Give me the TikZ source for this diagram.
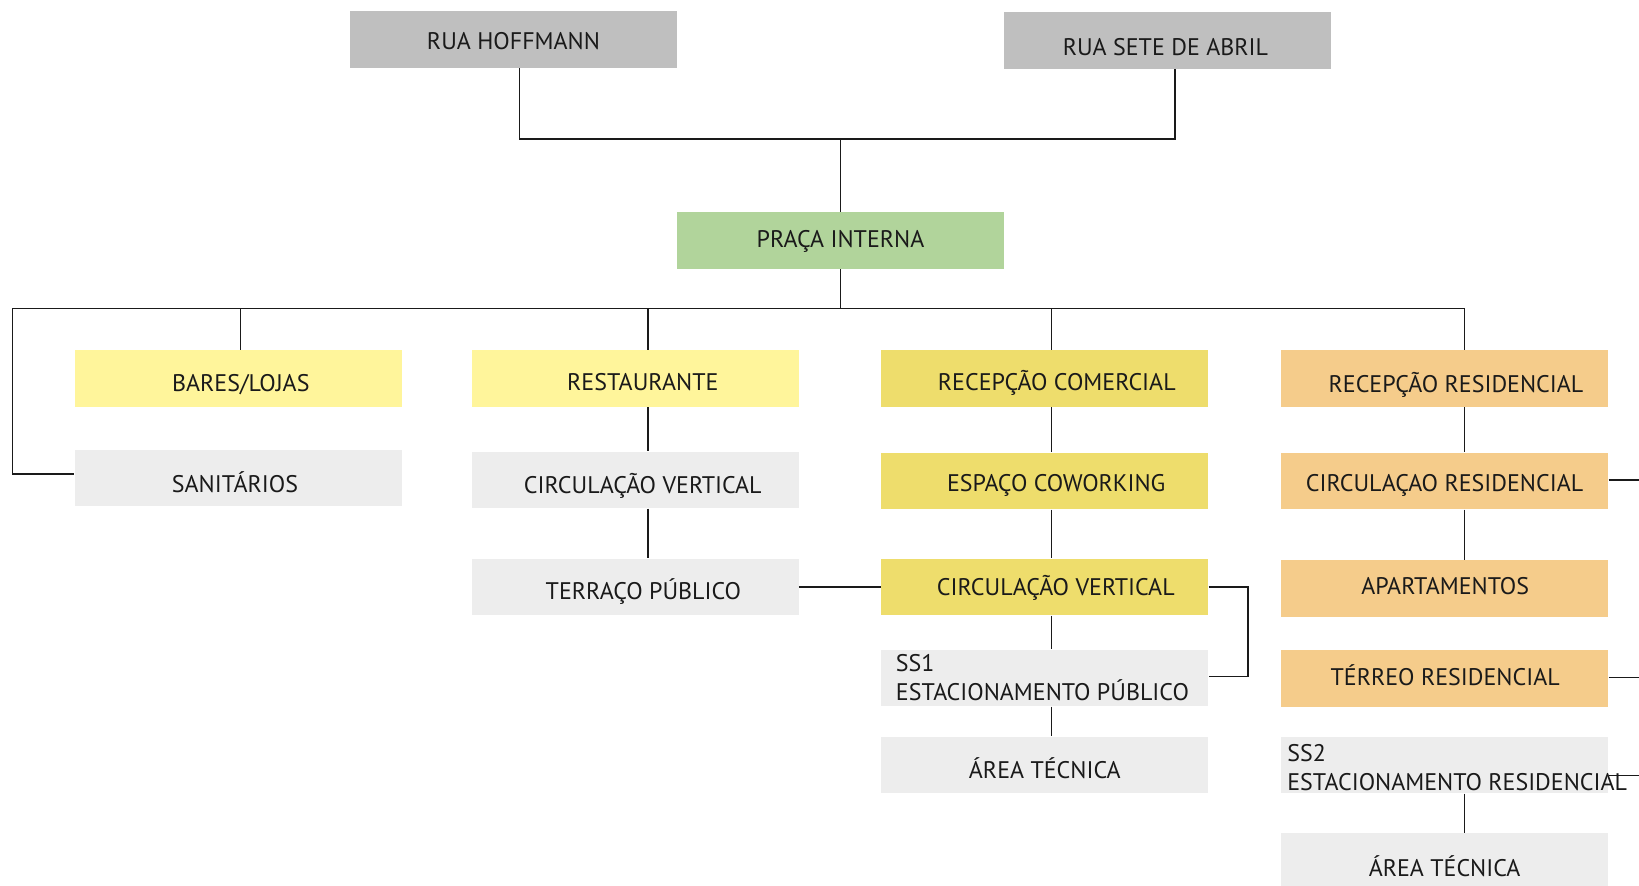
\documentclass[tikz,border=0pt]{standalone}
\usepackage{fontspec}
\setmainfont{PT Sans}
\definecolor{topgray}{HTML}{BFBFBF}
\definecolor{pgreen}{HTML}{B1D49B}
\definecolor{lyellow}{HTML}{FFF59B}
\definecolor{dyellow}{HTML}{EEDD6C}
\definecolor{porange}{HTML}{F5CC8B}
\definecolor{lgray}{HTML}{EDEDED}
\definecolor{ink}{HTML}{1A1A1A}
% text placed with an x offset (#1) and a drop (#2) from the box centre
\newcommand\tx[3]{\raisebox{\dimexpr-4.2pt-#2\relax}[0pt][0pt]{\makebox[0pt]{\hspace*{#1}\hspace*{#1}#3}}}
\begin{document}
\begin{tikzpicture}[x=0.5pt,y=-0.5pt,
  box/.style={rectangle, minimum width=163.5pt, minimum height=28.3pt, inner sep=0pt,
    font=\fontsize{12}{14.4}\selectfont, text=ink},
  sslabel/.style={anchor=west, align=left, inner sep=0pt,
    font=\fontsize{12}{14.6}\selectfont, text=ink},
  conn/.style={line width=0.75pt, draw=ink}]
\useasboundingbox (0,0) rectangle (1639,886);
% top
\node[box, fill=topgray] (hoff) at (513.5,39.7) {\tx{0pt}{0.5pt}{RUA HOFFMANN}};
\node[box, fill=topgray] (sete) at (1167,40.8) {\tx{-0.8pt}{3.1pt}{RUA SETE DE ABRIL}};
\node[box, fill=pgreen] (praca) at (840.5,240.4) {\tx{0pt}{-0.5pt}{PRAÇA INTERNA}};
% row 1
\node[box, fill=lyellow] (bares) at (238.2,378.4) {\tx{1.3pt}{2.6pt}{BARES/LOJAS}};
\node[box, fill=lyellow] (rest) at (635,378.4) {\tx{3.9pt}{2.1pt}{RESTAURANTE}};
\node[box, fill=dyellow] (recc) at (1044.8,378.4) {\tx{6pt}{2.1pt}{RECEPÇÃO COMERCIAL}};
\node[box, fill=porange] (recr) at (1444.6,378.4) {\tx{5.7pt}{3.1pt}{RECEPÇÃO RESIDENCIAL}};
% row 2
\node[box, fill=lgray] (sanit) at (238.2,478) {\tx{-1.6pt}{2.9pt}{SANITÁRIOS}};
\node[box, fill=lgray] (cv2) at (635,480) {\tx{3.9pt}{2.6pt}{CIRCULAÇÃO VERTICAL}};
\node[box, fill=dyellow] (cowork) at (1044.8,481) {\tx{5.7pt}{1pt}{ESPAÇO COWORKING}};
\node[box, fill=porange] (cres) at (1444.6,481) {\tx{0pt}{1pt}{CIRCULAÇAO RESIDENCIAL}};
% row 3
\node[box, fill=lgray] (terr) at (635,587) {\tx{4.2pt}{2.3pt}{TERRAÇO PÚBLICO}};
\node[box, fill=dyellow] (cv3) at (1044.8,587) {\tx{5.5pt}{0.3pt}{CIRCULAÇÃO VERTICAL}};
\node[box, fill=porange] (apt) at (1444.6,588.5) {\tx{0.3pt}{-1pt}{APARTAMENTOS}};
% row 4
\node[box, fill=lgray] (ss1) at (1044.8,678) {};
\node[sslabel] (ss1t) at ([xshift=7.3pt]ss1.west) {SS1\\ESTACIONAMENTO PÚBLICO};
\node[box, fill=porange] (terreo) at (1444.6,678.5) {\tx{0.3pt}{-0.5pt}{TÉRREO RESIDENCIAL}};
% row 5
\node[box, fill=lgray] (at3) at (1044.8,765) {\tx{0pt}{2.6pt}{ÁREA TÉCNICA}};
\node[box, fill=lgray] (ss2) at (1444.6,765) {};
\node[sslabel] (ss2t) at ([xshift=3.1pt,yshift=-1.5pt]ss2.west) {SS2\\ESTACIONAMENTO RESIDENCIAL};
% row 6
\node[box, fill=lgray, minimum height=33pt, anchor=north] (at4) at (1444.6,833) {\tx{0pt}{0.8pt}{ÁREA TÉCNICA}};
% coordinates
\coordinate (tl) at (519.5,139);
\coordinate (tr) at (1175,139);
\coordinate (tc) at (840.4,139);
\coordinate (bc) at (840.4,308.4);
\coordinate (bl) at (12.5,308.4);
\coordinate (s1) at (240.4,308.4);
\coordinate (s2) at (648,308.4);
\coordinate (s3) at (1051.6,308.4);
\coordinate (s4) at (1464.5,308.4);
\coordinate (bk) at (1248,600);
\coordinate (re) at (1639,600);
% connectors
\draw[conn] (hoff.south -| tl) -- (tl) -- (tr) -- (sete.south -| tr);
\draw[conn] (tc) -- (praca.north -| tc);
\draw[conn] (praca.south -| bc) -- (bc);
\draw[conn] (s4) -- (bl) |- ([yshift=2pt]sanit.west);
\draw[conn] (s1) -- (bares.north -| s1);
\draw[conn] (s2) -- (rest.north -| s2);
\draw[conn] (s3) -- (recc.north -| s3);
\draw[conn] (s4) -- (recr.north -| s4);
\draw[conn] (rest.south -| s2) -- (cv2.north -| s2);
\draw[conn] (cv2.south -| s2) -- (terr.north -| s2);
\draw[conn] (recc.south -| s3) -- (cowork.north -| s3);
\draw[conn] (cowork.south -| s3) -- (cv3.north -| s3);
\draw[conn] (cv3.south -| s3) -- (ss1.north -| s3);
\draw[conn] (ss1.south -| s3) -- (at3.north -| s3);
\draw[conn] (terr.east) -- (cv3.west);
\draw[conn] (cv3.east) -- (cv3.east -| bk) |- ([yshift=0.8pt]ss1.east);
\draw[conn] (recr.south -| s4) -- (cres.north -| s4);
\draw[conn] (cres.south -| s4) -- (apt.north -| s4);
\draw[conn] (ss2.south -| s4) -- (at4.north -| s4);
\draw[conn] ([yshift=0.6pt]cres.east) -- ([yshift=0.6pt]cres.east -| re);
\draw[conn] ([yshift=0.6pt]terreo.east) -- ([yshift=0.6pt]terreo.east -| re);
\draw[conn] ([yshift=-5.3pt]ss2.east) -- ([yshift=-5.3pt]ss2.east -| re);
\end{tikzpicture}
\end{document}
